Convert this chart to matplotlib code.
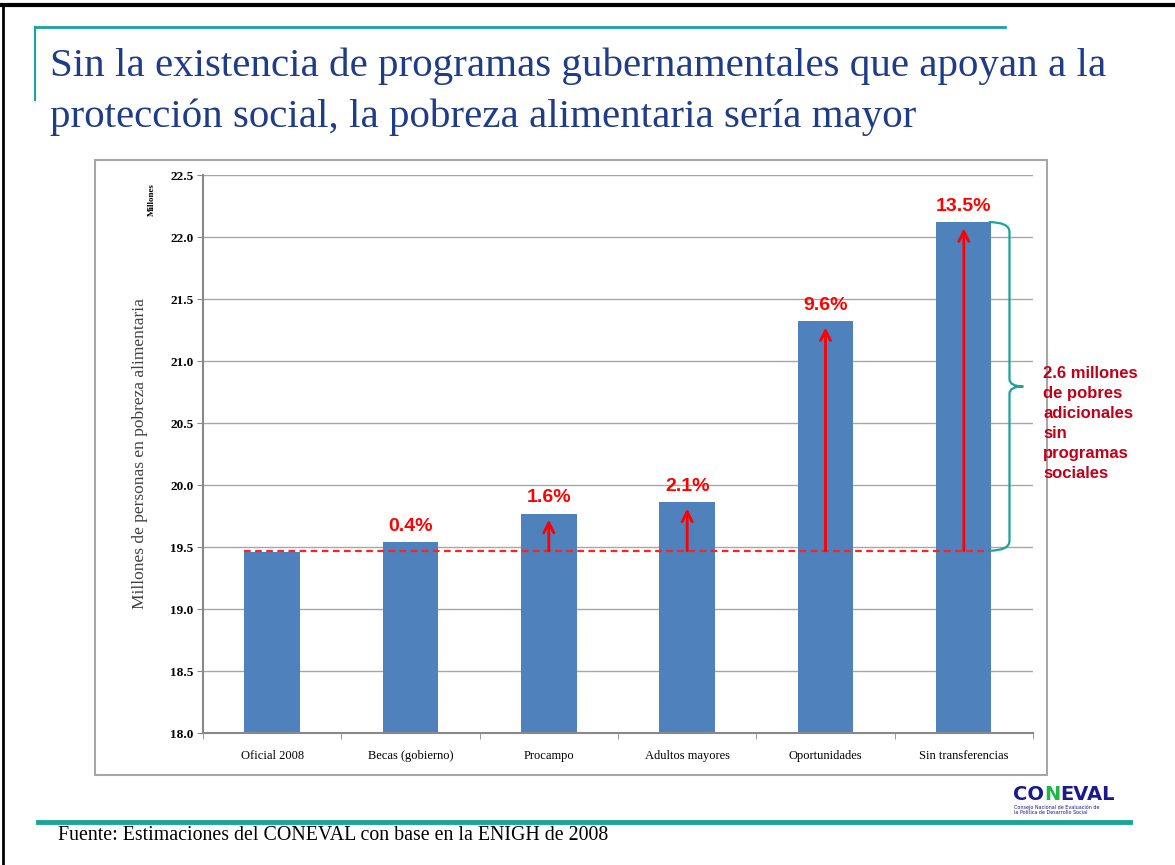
import matplotlib.pyplot as plt
from matplotlib.path import Path
from matplotlib.patches import PathPatch, Rectangle
from matplotlib.lines import Line2D
import numpy as np

# data (millions of people)
categories = ["Oficial 2008", "Becas (gobierno)", "Procampo", "Adultos mayores",
              "Oportunidades", "Sin transferencias"]
values = [19.46, 19.54, 19.77, 19.86, 21.32, 22.12]
pct_labels = ["", "0.4%", "1.6%", "2.1%", "9.6%", "13.5%"]
arrow_on = [False, False, True, True, True, True]
baseline = 19.47
yticks = [18.0, 18.5, 19.0, 19.5, 20.0, 20.5, 21.0, 21.5, 22.0, 22.5]

W, H = 1175, 865
BAR = "#4F81BD"
TEAL = "#1AA39A"
NAVY = "#1F3C88"


def fx(x):
    return x / W


def fy(y):
    return 1 - y / H


fig = plt.figure(figsize=(W / 100, H / 100), dpi=100)

# page decorations
fig.add_artist(Line2D([0, 1], [fy(5), fy(5)], color="black", lw=3))
fig.add_artist(Line2D([fx(3), fx(3)], [fy(5), 0], color="black", lw=2))
fig.add_artist(Line2D([fx(35), fx(1005)], [fy(27), fy(27)], color=TEAL, lw=2))
fig.add_artist(Line2D([fx(35), fx(35)], [fy(27), fy(100)], color=TEAL, lw=1.5))
fig.add_artist(Line2D([fx(38), fx(1130)], [fy(822), fy(822)], color=TEAL, lw=3.5))

fig.text(fx(50), fy(66), "Sin la existencia de programas gubernamentales que apoyan a la",
         family="Liberation Serif", fontsize=29.5, color=NAVY, va="center")
fig.text(fx(50), fy(117), "protección social, la pobreza alimentaria sería mayor",
         family="Liberation Serif", fontsize=29.5, color=NAVY, va="center")

fig.text(fx(58), fy(835), "Fuente: Estimaciones del CONEVAL con base en la ENIGH de 2008",
         family="Liberation Serif", fontsize=14.3, color="black", va="center")

# chart frame
fig.add_artist(Rectangle((fx(95), fy(775)), fx(1047) - fx(95), fy(160) - fy(775),
                         transform=fig.transFigure, fill=False, ec="#A6A6A6", lw=1.5))

ax = fig.add_axes([fx(203), fy(733), fx(1033) - fx(203), fy(175) - fy(733)])
x = np.arange(len(categories))
ax.bar(x, values, width=0.4, color=BAR, zorder=3)
ax.set_xlim(-0.5, len(categories) - 0.5)
ax.set_ylim(18.0, 22.5)
ax.set_yticks(yticks)
ax.set_yticklabels([f"{v:.1f}" for v in yticks], family="Liberation Serif",
                   fontweight="bold", fontsize=9.5)
ax.set_xticks(x)
ax.set_xticklabels(categories, family="Liberation Serif", fontsize=9)
ax.set_xticks(np.arange(-0.5, len(categories) + 0.5, 1), minor=True)
ax.tick_params(axis="x", which="major", length=0, pad=12)
ax.tick_params(axis="x", which="minor", length=4, color="#888888")
ax.tick_params(axis="y", length=4, color="#888888", pad=3)
ax.grid(axis="y", color="#A6A6A6", lw=1, zorder=0)
for s in ["top", "right"]:
    ax.spines[s].set_visible(False)
for s in ["left", "bottom"]:
    ax.spines[s].set_color("#888888")
    ax.spines[s].set_linewidth(1.5)
    ax.spines[s].set_zorder(4)

ax.set_ylabel("Millones de personas en pobreza alimentaria", family="Liberation Serif",
              fontsize=12.5, color="#404040", labelpad=16)
fig.text(fx(152), fy(200), "Millones", rotation=90,
         family="Liberation Serif", fontweight="bold", fontsize=6.5, ha="center", va="center")

# dashed baseline and arrows
ax.plot([-0.2, len(categories) - 0.8], [baseline, baseline], color="#FF2020",
        ls=(0, (3, 2)), lw=1.6, zorder=5)
for i, v in enumerate(values):
    if arrow_on[i]:
        ax.annotate("", xy=(i, v - 0.05), xytext=(i, baseline),
                    arrowprops=dict(arrowstyle="->", color="#FF0000", lw=2,
                                    mutation_scale=18, shrinkA=0, shrinkB=0),
                    zorder=6)
    if pct_labels[i]:
        ax.text(i, v + 0.06, pct_labels[i], ha="center", va="bottom", color="#FF0000",
                family="Liberation Sans", fontweight="bold", fontsize=14)

# curly brace at right of last bar
top, bot = values[-1], baseline
mid = (top + bot) / 2
x0, xv, xt = 5.18, 5.33, 5.43
verts = [(x0, top), (xv, top), (xv, top - 0.08),
         (xv, mid + 0.06), (xv, mid), (xt, mid),
         (xv, mid), (xv, mid - 0.06),
         (xv, bot + 0.08), (xv, bot), (x0, bot)]
codes = [Path.MOVETO, Path.CURVE3, Path.CURVE3,
         Path.LINETO, Path.CURVE3, Path.CURVE3,
         Path.CURVE3, Path.CURVE3,
         Path.LINETO, Path.CURVE3, Path.CURVE3]
ax.add_patch(PathPatch(Path(verts, codes), fill=False, ec=TEAL, lw=1.6,
                       clip_on=False, zorder=6))
fig.text(fx(1043), fy(366), "2.6 millones\nde pobres\nadicionales\nsin\nprogramas\nsociales",
         family="Liberation Sans", fontweight="bold", fontsize=12, color="#C00018",
         va="top", ha="left", linespacing=1.42)

# logo
t1 = fig.text(fx(1013), fy(800), "CO", family="DejaVu Sans", fontweight="heavy",
              fontsize=14, color="#1A1A8C", va="baseline")
t2 = fig.text(0, 0, "N", family="DejaVu Sans", fontweight="heavy", fontsize=14,
              color="#1FB54A", va="baseline")
t3 = fig.text(0, 0, "EVAL", family="DejaVu Sans", fontweight="heavy", fontsize=14,
              color="#1A1A8C", va="baseline")
fig.canvas.draw()
r = fig.canvas.get_renderer()
bb1 = t1.get_window_extent(r)
t2.set_position((bb1.x1 / fig.bbox.width, fy(800)))
bb2 = t2.get_window_extent(r)
t3.set_position((bb2.x1 / fig.bbox.width, fy(800)))
fig.text(fx(1014), fy(804), "Consejo Nacional de Evaluación de\nla Política de Desarrollo Social",
         family="DejaVu Sans", fontsize=3.5, color="#1A1A8C", va="top", linespacing=1.1)

fig.savefig("out.png", dpi=100)
